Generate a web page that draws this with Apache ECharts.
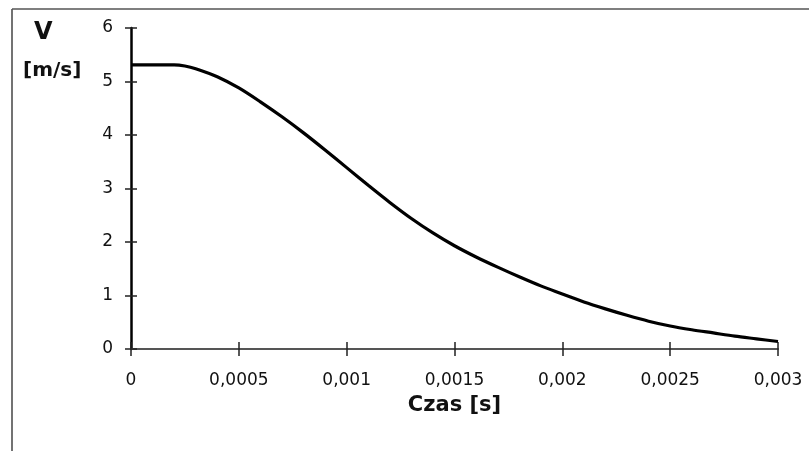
<!DOCTYPE html>
<html>
<head>
<meta charset="utf-8">
<script src="https://cdn.jsdelivr.net/npm/echarts@6/dist/echarts.min.js"></script>
<style>
html,body{margin:0;padding:0;background:#fff;}
#c{width:809px;height:451px;}
</style>
</head>
<body>
<div id="c"></div>
<script>
var timeValues = [0, 0.0001, 0.0002, 0.00025, 0.0003, 0.0004, 0.0005, 0.0006, 0.0007, 0.0008, 0.0009, 0.001, 0.0011, 0.0012, 0.0013, 0.0014, 0.0015, 0.0016, 0.0017, 0.0018, 0.0019, 0.002, 0.0021, 0.0022, 0.0023, 0.0024, 0.0025, 0.0026, 0.0027, 0.0028, 0.0029, 0.003];
var speedValues = [5.31, 5.31, 5.31, 5.29, 5.24, 5.09, 4.88, 4.62, 4.34, 4.04, 3.72, 3.39, 3.06, 2.74, 2.44, 2.17, 1.93, 1.72, 1.53, 1.35, 1.18, 1.03, 0.88, 0.75, 0.63, 0.52, 0.43, 0.36, 0.30, 0.24, 0.19, 0.14];
var xTickLabels = ['0', '0,0005', '0,001', '0,0015', '0,002', '0,0025', '0,003'];
var yTickLabels = ['0', '1', '2', '3', '4', '5', '6'];

var chart = echarts.init(document.getElementById('c'), null, {renderer: 'canvas'});
var pts = timeValues.map(function (t, i) { return [t, speedValues[i]]; });
var font = '"DejaVu Sans", Verdana, sans-serif';
function xFmt(v) { var i = Math.round(v / 0.0005); return xTickLabels[i] !== undefined ? xTickLabels[i] : ''; }
function yFmt(v) { var i = Math.round(v); return yTickLabels[i] !== undefined ? yTickLabels[i] : ''; }

chart.setOption({
  animation: false,
  backgroundColor: '#ffffff',
  grid: {left: 131, top: 28, right: 31, bottom: 102},
  xAxis: [{
    type: 'value', min: 0, max: 0.003, interval: 0.0005,
    axisLine: {show: true, lineStyle: {color: '#555', width: 2}},
    axisTick: {show: true, length: 7, lineStyle: {color: '#222', width: 1.5}},
    axisLabel: {formatter: xFmt, color: '#111', fontFamily: font, fontSize: 17, margin: 23},
    splitLine: {show: false},
    name: 'Czas [s]', nameLocation: 'middle', nameGap: 46,
    nameTextStyle: {fontFamily: font, fontSize: 21, fontWeight: 'bold', color: '#111'}
  }, {
    type: 'value', min: 0, max: 0.003, interval: 0.0005, position: 'bottom',
    axisLine: {show: false},
    axisTick: {show: true, inside: true, length: 7, lineStyle: {color: '#222', width: 1.5}},
    axisLabel: {show: false},
    splitLine: {show: false}
  }],
  yAxis: [{
    type: 'value', min: 0, max: 6, interval: 1,
    axisLine: {show: true, lineStyle: {color: '#000', width: 2.5}},
    axisTick: {show: true, length: 6, lineStyle: {color: '#222', width: 1.5}},
    axisLabel: {formatter: yFmt, color: '#111', fontFamily: font, fontSize: 17, margin: 18},
    splitLine: {show: false}
  }, {
    type: 'value', min: 0, max: 6, interval: 1, position: 'left',
    axisLine: {show: false},
    axisTick: {show: true, inside: true, length: 6, lineStyle: {color: '#222', width: 1.5}},
    axisLabel: {show: false},
    splitLine: {show: false}
  }],
  series: [{
    type: 'line',
    data: pts,
    xAxisIndex: 0, yAxisIndex: 0,
    smooth: 0.3,
    showSymbol: false,
    lineStyle: {color: '#000', width: 3.2}
  }],
  graphic: [
    {type: 'line', shape: {x1: 12, y1: 9, x2: 12, y2: 451}, style: {stroke: '#444', lineWidth: 1.5}},
    {type: 'line', shape: {x1: 12, y1: 9, x2: 809, y2: 9}, style: {stroke: '#555', lineWidth: 1.5}},
    {type: 'text', left: 34, top: 21, style: {text: 'V', fontFamily: font, fontSize: 24, fontWeight: 'bold', fill: '#111'}},
    {type: 'text', left: 23, top: 61, style: {text: '[m/s]', fontFamily: font, fontSize: 20, fontWeight: 'bold', fill: '#111'}}
  ]
});
</script>
</body>
</html>
